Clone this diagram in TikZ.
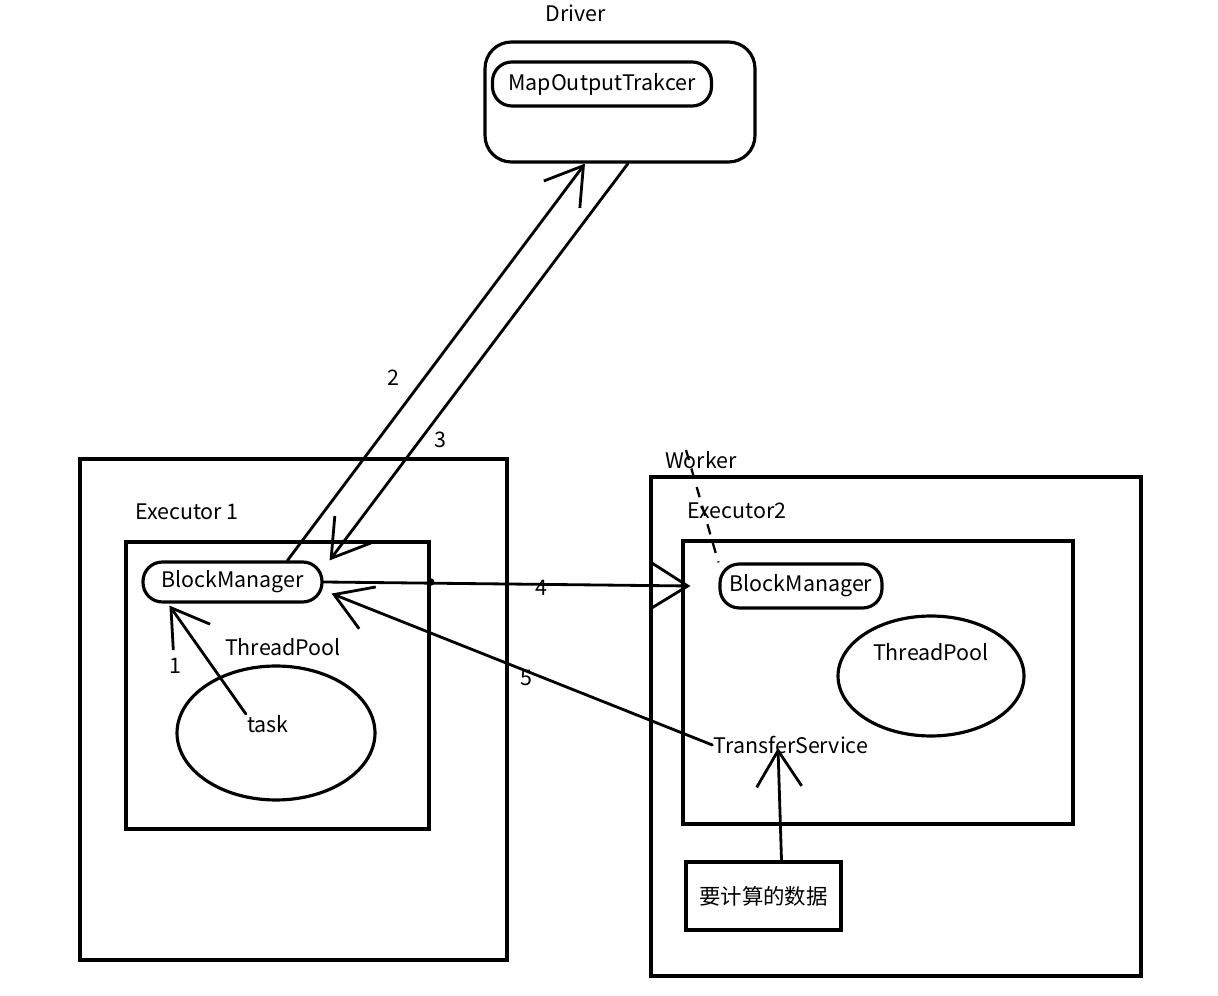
\documentclass[tikz,border=0pt]{standalone}
\usepackage{fontspec}
\setmainfont{Noto Sans CJK SC}
\usepackage{tikz}
\usetikzlibrary{arrows.meta}
\usetikzlibrary{shapes.geometric}

\tikzset{
  box/.style={draw, line width=1.8pt, inner sep=0pt},
  store/.style={draw, line width=1.8pt, rounded corners=11pt},
  flow/.style={line width=1.6pt, line cap=round, -{Straight Barb[length=0.72cm, width=0.9cm]}},
  lbl/.style={font=\fontsize{12.2}{15}\selectfont, inner sep=0pt}
}

\begin{document}
\begin{tikzpicture}[x=0.02cm, y=-0.02cm, line width=1.6pt]
   \useasboundingbox (0,0) rectangle (1218,996);

   % Driver
   \node [lbl] (drvlbl) at (576,13) {Driver};
   \node [box, rounded corners=15pt, minimum width=5.4cm, minimum height=2.4cm] (driver) at (620,102) {};
   \node [lbl, store, minimum width=4.38cm, minimum height=0.88cm] (mot) at (602,84) {MapOutputTrakcer};

   % Executor 1
   \node [box, minimum width=8.54cm, minimum height=10.02cm] (ex1) at (293.5,709.5) {};
   \node [lbl] (ex1lbl) at (187,512) {Executor 1};
   \node [box, minimum width=6.06cm, minimum height=5.74cm] (ex1in) at (277.5,685.5) {};
   \node [lbl, store, minimum width=3.58cm, minimum height=0.8cm] (bm1) at (232.5,582) {BlockManager};
   \node [lbl] (tp1lbl) at (283,647) {ThreadPool};
   \node [box, ellipse, minimum width=3.96cm, minimum height=2.68cm] (pool1) at (276,733) {};
   \node [lbl] (task) at (268,724) {task};

   % Worker
   \node [box, minimum width=9.8cm, minimum height=9.98cm] (wk) at (896,726.5) {};
   \node [lbl] (wklbl) at (701,460) {Worker};
   \node [lbl] (ex2lbl) at (737,511) {Executor2};
   \node [box, minimum width=7.8cm, minimum height=5.66cm] (ex2in) at (878,682.5) {};
   \node [lbl, store, minimum width=3.24cm, minimum height=0.88cm] (bm2) at (801,586) {BlockManager};
   \node [box, ellipse, minimum width=3.72cm, minimum height=2.4cm] (pool2) at (931,676) {};
   \node [lbl] (tp2lbl) at (931,652) {ThreadPool};
   \node [lbl] (ts) at (791,745) {TransferService};
   \node [lbl, box, minimum width=3.1cm, minimum height=1.36cm] (data) at (763.5,896) {要计算的数据};

   % connectors
   \draw [flow] (task.north west) -- ([xshift=0.56cm, yshift=-0.04cm]bm1.south west);
   \draw [flow] ([xshift=1.1cm]bm1.north) -- ([xshift=-0.7cm]driver.south);
   \draw [flow] ([xshift=0.16cm]driver.south) -- ([xshift=0.12cm]bm1.north east);
   \draw [flow] (bm1.east) -- ([xshift=-0.56cm]bm2.west);
   \fill (ex1in.east |- bm1.east) circle (2.2pt);
   \draw [flow] (ts.west) -- ([xshift=0.16cm, yshift=0.2cm]bm1.south east);
   \draw [flow] ([xshift=0.36cm]data.north) -- ([xshift=-0.26cm, yshift=-0.06cm]ts.center);
   \draw [line width=1.3pt, dash pattern=on 6pt off 5pt] ([xshift=-0.3cm]wklbl.north) -- (bm2.north west);

   \node [lbl] (n1) at (175,666) {1};
   \node [lbl] (n2) at (393,378) {2};
   \node [lbl] (n3) at (440,440) {3};
   \node [lbl] (n4) at (541,588) {4};
   \node [lbl] (n5) at (526,678) {5};

\end{tikzpicture}
\end{document}
